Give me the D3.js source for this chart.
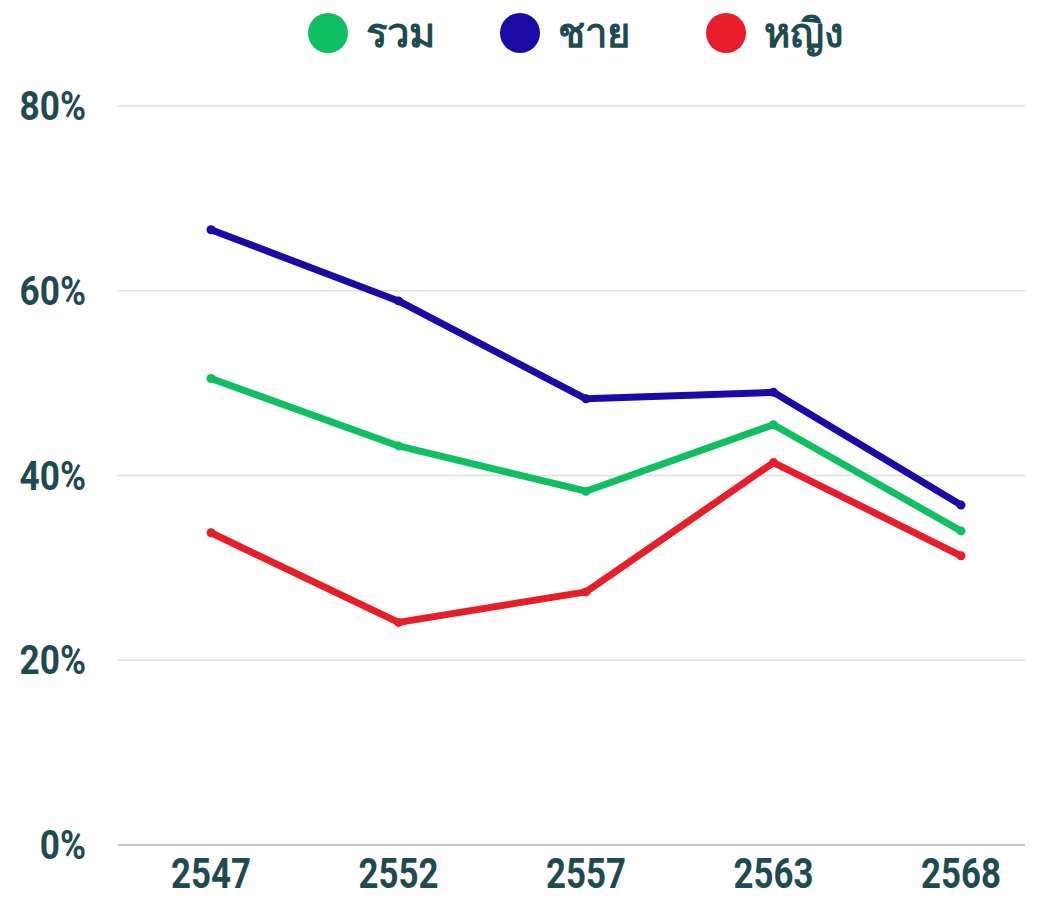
<!DOCTYPE html>
<html>
<head>
<meta charset="utf-8">
<script src="https://cdn.jsdelivr.net/npm/d3@7"></script>
<style>
  body { margin: 0; background: #fff; }
  text { font-family: "Roboto", "Liberation Sans", sans-serif; font-weight: bold; fill: #1f4a4f; }
</style>
</head>
<body>
<div id="chart"></div>
<script>
// data
var years = ["2547", "2552", "2557", "2563", "2568"];
var total = [50.5, 43.2, 38.3, 45.5, 34.0];   // รวม
var male = [66.6, 58.9, 48.3, 49.0, 36.8];    // ชาย
var female = [33.8, 24.1, 27.4, 41.4, 31.3];  // หญิง
var seriesNames = ["รวม", "ชาย", "หญิง"];
var yTicks = [0, 20, 40, 60, 80];

var colors = ["#0fbf62", "#1b0aa6", "#e81d2a"];
var series = [total, male, female];

var width = 1051, height = 898;
var margin = {top: 106, right: 26, bottom: 53, left: 118};

var svg = d3.select("#chart").append("svg")
    .attr("width", width)
    .attr("height", height);

var x = d3.scalePoint()
    .domain(years)
    .range([211, 961]);

var y = d3.scaleLinear()
    .domain([0, 80])
    .range([height - margin.bottom, margin.top]);

// gridlines
svg.append("g")
    .selectAll("line")
    .data(yTicks)
    .join("line")
    .attr("x1", margin.left)
    .attr("x2", width - margin.right)
    .attr("y1", d => y(d))
    .attr("y2", d => y(d))
    .attr("stroke", d => d == 0 ? "#c4c8c8" : "#e0e0e0")
    .attr("stroke-width", d => d == 0 ? 2 : 1.3);

// y labels (condensed look by squeezing horizontally)
svg.append("g")
    .selectAll("text")
    .data(yTicks)
    .join("text")
    .attr("transform", d => "translate(86," + (y(d) + 14) + ") scale(0.88,1)")
    .attr("text-anchor", "end")
    .style("font-size", "40px")
    .text(d => d + "%");

// x labels
svg.append("g")
    .selectAll("text")
    .data(years)
    .join("text")
    .attr("transform", d => "translate(" + x(d) + ",888) scale(0.83,1)")
    .attr("text-anchor", "middle")
    .style("font-size", "42px")
    .text(d => d);

var line = d3.line()
    .x((d, i) => x(years[i]))
    .y(d => y(d));

series.forEach(function(s, k) {
    svg.append("path")
        .datum(s)
        .attr("fill", "none")
        .attr("stroke", colors[k])
        .attr("stroke-width", 7)
        .attr("stroke-linejoin", "round")
        .attr("d", line);

    svg.append("g")
        .selectAll("circle")
        .data(s)
        .join("circle")
        .attr("cx", (d, i) => x(years[i]))
        .attr("cy", d => y(d))
        .attr("r", 4.5)
        .attr("fill", colors[k]);
});

// legend
var legendX = [328, 520, 726];
var legend = svg.append("g")
    .selectAll("g")
    .data(seriesNames)
    .join("g")
    .attr("transform", (d, i) => "translate(" + legendX[i] + ",33)");

legend.append("circle")
    .attr("r", 20)
    .attr("fill", (d, i) => colors[i]);

legend.append("text")
    .attr("x", 38)
    .attr("y", 14)
    .style("font-size", "40px")
    .style("font-weight", 900)
    .text(d => d);
</script>
</body>
</html>
